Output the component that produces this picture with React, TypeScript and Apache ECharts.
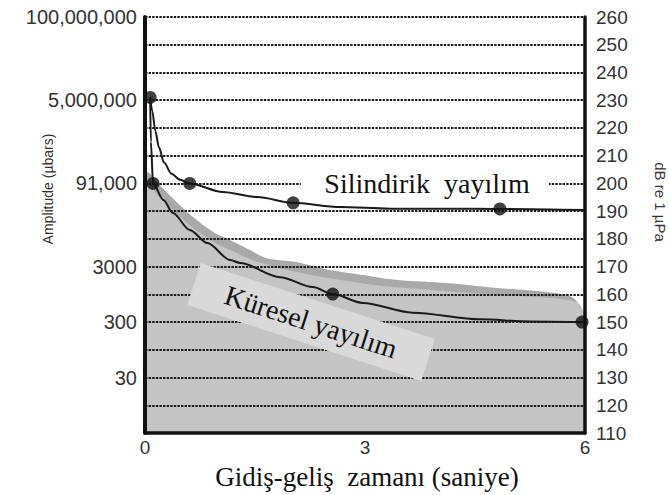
import React, { useEffect, useRef } from "react";
import * as echarts from "echarts";

// dB re 1 µPa scale (right axis) and amplitude labels (left axis)
const dbMin = 110;
const dbMax = 260;
const dbStep = 10;
const leftLabelDb = [260, 230, 200, 170, 150, 130];
const leftLabelText = ["100,000,000", "5,000,000", "91,000", "3000", "300", "30"];
const xTicks = [0, 3, 6];

// Cylindrical spreading curve (time s, dB)
const cylT = [0.07, 0.1, 0.14, 0.19, 0.26, 0.36, 0.48, 0.61, 1.06, 1.53, 2.02, 2.66, 3.34, 4.02, 4.84, 6];
const cylDb = [231, 226, 219, 213, 207.5, 203.5, 201.3, 200, 196.9, 195.1, 193, 191.5, 190.9, 190.9, 190.8, 190.4];
const cylDotT = [0.07, 0.61, 2.02, 4.84];
const cylDotDb = [231, 200, 193, 190.8];

// Spherical spreading curve
const sphT = [0.07, 0.08, 0.11, 0.25, 0.38, 0.61, 0.85, 1.16, 1.3, 1.84, 2.29, 2.56, 2.97, 3.65, 4.57, 5.25, 5.96];
const sphDb = [231, 215, 200, 194, 189.3, 183.2, 178.5, 172.4, 171.3, 166.2, 162.6, 160.1, 156.9, 153.4, 151, 150.2, 150];
const sphDotT = [0.11, 2.56, 5.96];
const sphDotDb = [200, 160.1, 150];

// Shaded regions: darker upper band, lighter lower region
const bandT = [0, 0.03, 0.2, 0.44, 0.65, 0.93, 1.16, 1.43, 1.66, 2.07, 2.52, 2.97, 3.44, 4.12, 4.8, 5.48, 5.84, 5.97, 6];
const bandDb = [204, 204, 199.4, 193, 188, 182.5, 179.6, 176, 173, 171.6, 168.8, 167, 165.2, 164.1, 162.3, 160.8, 158.7, 153.3, 150];
const lightT = [0, 0.05, 0.2, 0.4, 0.65, 0.93, 1.2, 1.5, 1.9, 2.4, 2.9, 3.4, 3.9, 4.5, 5.1, 5.6, 5.9, 6];
const lightDb = [201, 200, 195, 190, 184, 179, 175.5, 172, 169, 166.3, 164.2, 162.6, 161.6, 160.4, 159.4, 158.5, 157, 153];

const zip = (a: number[], b: number[]) => a.map((v, i) => [v, b[i]]);

const SANS = '"Liberation Sans", Arial, sans-serif';
const SERIF = '"Liberation Serif", "Times New Roman", serif';

export default function App() {
  const ref = useRef<HTMLDivElement>(null);
  useEffect(() => {
    const chart = echarts.init(ref.current!, null, { renderer: "svg" });
    const leftMap: Record<number, string> = {};
    leftLabelDb.forEach((d, i) => (leftMap[d] = leftLabelText[i]));
    const deg = Math.PI / 180;
    chart.setOption({
      animation: false,
      backgroundColor: "#ffffff",
      grid: { left: 145, right: 84, top: 17, bottom: 62 },
      xAxis: {
        type: "value",
        min: xTicks[0],
        max: xTicks[xTicks.length - 1],
        interval: 3,
        z: 5,
        axisLine: { show: true, lineStyle: { color: "#111", width: 3.5 } },
        axisTick: { show: false },
        splitLine: { show: false },
        axisLabel: { fontSize: 19, color: "#333", margin: 5, fontFamily: SANS },
      },
      yAxis: [
        {
          type: "value",
          min: dbMin,
          max: dbMax,
          interval: dbStep,
          position: "left",
          z: 1,
          axisLine: { show: true, lineStyle: { color: "#111", width: 4 } },
          axisTick: { show: false },
          axisLabel: {
            fontSize: 20,
            color: "#333",
            margin: 8,
            fontFamily: SANS,
            formatter: (v: number) => leftMap[v] ?? "",
          },
          splitLine: { show: true, lineStyle: { type: [2.4, 1.2], color: "#1a1a1a", width: 1.9 } },
        },
        {
          type: "value",
          min: dbMin,
          max: dbMax,
          interval: dbStep,
          position: "right",
          z: 5,
          axisLine: { show: true, lineStyle: { color: "#111", width: 3.5 } },
          axisTick: { show: false },
          axisLabel: { fontSize: 19, color: "#333", margin: 11, fontFamily: SANS },
          splitLine: { show: false },
        },
      ],
      series: [
        {
          type: "line",
          data: zip(bandT, bandDb),
          showSymbol: false,
          smooth: 0.3,
          lineStyle: { width: 0 },
          areaStyle: { color: "#a9a9a9", opacity: 1, origin: "start" },
          z: 0,
        },
        {
          type: "line",
          data: zip(lightT, lightDb),
          showSymbol: false,
          smooth: 0.3,
          lineStyle: { width: 0 },
          areaStyle: { color: "#c4c4c4", opacity: 1, origin: "start" },
          z: 0,
        },
        {
          type: "line",
          data: zip(cylT, cylDb),
          showSymbol: false,
          smooth: 0.3,
          smoothMonotone: "x",
          lineStyle: { color: "#1a1a1a", width: 2 },
          z: 3,
        },
        {
          type: "line",
          data: zip(sphT, sphDb),
          showSymbol: false,
          smooth: 0.3,
          smoothMonotone: "x",
          lineStyle: { color: "#1a1a1a", width: 2 },
          z: 3,
        },
        {
          type: "scatter",
          data: [...zip(cylDotT, cylDotDb), ...zip(sphDotT, sphDotDb)],
          symbolSize: 13,
          itemStyle: { color: "#111" },
          z: 4,
        },
      ],
      graphic: [
        {
          type: "rect",
          z: 10,
          shape: { x: 301, y: 174, width: 248, height: 19 },
          style: { fill: "#ffffff" },
        },
        {
          type: "text",
          z: 11,
          x: 427,
          y: 183,
          style: {
            text: "Silindirik  yayılım",
            font: `28px ${SERIF}`,
            fill: "#111",
            align: "center",
            verticalAlign: "middle",
          },
        },
        {
          type: "group",
          x: 311,
          y: 322,
          rotation: -18 * deg,
          z: 10,
          children: [
            {
              type: "rect",
              shape: { x: -123, y: -22, width: 246, height: 44 },
              style: { fill: "#d9d9d9" },
              z: 10,
            },
            {
              type: "text",
              x: 0,
              y: 0,
              z: 11,
              style: {
                text: "Küresel yayılım",
                font: `28px ${SERIF}`,
                fill: "#111",
                align: "center",
                verticalAlign: "middle",
              },
            },
          ],
        },
        {
          type: "text",
          z: 11,
          x: 367,
          y: 477,
          style: {
            text: "Gidiş-geliş  zamanı (saniye)",
            font: `27px ${SERIF}`,
            fill: "#111",
            align: "center",
            verticalAlign: "middle",
          },
        },
        {
          type: "text",
          z: 11,
          x: 48,
          y: 189,
          rotation: 90 * deg,
          style: {
            text: "Amplitude (µbars)",
            font: `14px ${SANS}`,
            fill: "#333",
            align: "center",
            verticalAlign: "middle",
          },
        },
        {
          type: "text",
          z: 11,
          x: 660,
          y: 202,
          rotation: -90 * deg,
          style: {
            text: "dB re 1 µPa",
            font: `15px ${SANS}`,
            fill: "#333",
            align: "center",
            verticalAlign: "middle",
          },
        },
      ],
    });
    return () => chart.dispose();
  }, []);
  return (
    <div
      ref={ref}
      style={{ position: "fixed", left: 0, top: 0, width: 669, height: 495, background: "#fff" }}
    />
  );
}
